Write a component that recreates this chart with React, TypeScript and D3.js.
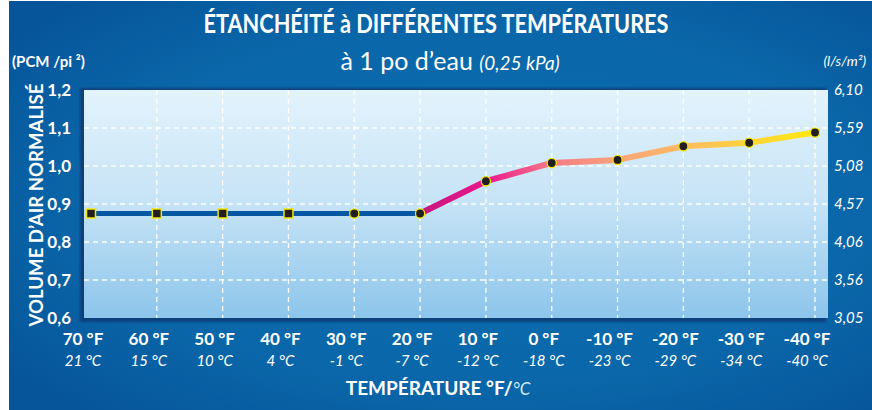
import React from "react";
import * as d3 from "d3";

const fLabels = ["70 °F", "60 °F", "50 °F", "40 °F", "30 °F", "20 °F", "10 °F", "0 °F", "-10 °F", "-20 °F", "-30 °F", "-40 °F"];
const cLabels = ["21 °C", "15 °C", "10 °C", "4 °C", "-1 °C", "-7 °C", "-12 °C", "-18 °C", "-23 °C", "-29 °C", "-34 °C", "-40 °C"];
const values = [0.875, 0.875, 0.875, 0.875, 0.875, 0.875, 0.96, 1.008, 1.016, 1.052, 1.061, 1.088];
const markerShape = ["square", "square", "square", "square", "circle", "circle", "circle", "circle", "circle", "circle", "circle", "circle"];
const leftTicks = ["0,6", "0,7", "0,8", "0,9", "1,0", "1,1", "1,2"];
const leftTickValues = [0.6, 0.7, 0.8, 0.9, 1.0, 1.1, 1.2];
const rightTicks = ["3,05", "3,56", "4,06", "4,57", "5,08", "5,59", "6,10"];
const gradientColors = ["#c5177f", "#ec168c", "#f47b88", "#f9a37a", "#fdbb60", "#fed43a", "#fee80f"];

const FONT = "Lato, 'Open Sans', sans-serif";

export default function App() {
  const W = 872, H = 410;
  const plot = { l: 84, r: 828, t: 90, b: 318 };
  const x = d3.scalePoint<string>().domain(fLabels).range([91, 815]);
  const y = d3.scaleLinear().domain([0.6, 1.2]).range([plot.b, plot.t]);
  const labelShift = -8;

  const blueIdx = 5;
  const line = d3.line<number>().x((_, i) => x(fLabels[i])!).y((d) => y(d));
  const bluePts = values.slice(0, blueIdx + 1);
  const colorPts = values.slice(blueIdx);
  const colorLine = d3
    .line<number>()
    .x((_, i) => x(fLabels[i + blueIdx])!)
    .y((d) => y(d));
  const gx1 = x(fLabels[blueIdx])!;
  const gx2 = x(fLabels[fLabels.length - 1])!;

  return (
    <svg width={W} height={H} style={{ position: "absolute", left: 0, top: 0, display: "block" }}>
      <defs>
        <radialGradient id="bg" cx="55%" cy="50%" r="70%">
          <stop offset="0%" stopColor="#0c71b4" />
          <stop offset="65%" stopColor="#0a66a8" />
          <stop offset="100%" stopColor="#06549a" />
        </radialGradient>
        <linearGradient id="plotbg" x1="0" y1="0" x2="0" y2="1">
          <stop offset="0%" stopColor="#e3f3fc" />
          <stop offset="50%" stopColor="#c6e3f6" />
          <stop offset="100%" stopColor="#8dc5eb" />
        </linearGradient>
        <linearGradient id="lineGrad" gradientUnits="userSpaceOnUse" x1={gx1} y1={0} x2={gx2} y2={0}>
          {gradientColors.map((c, i) => (
            <stop key={i} offset={`${(i / (gradientColors.length - 1)) * 100}%`} stopColor={c} />
          ))}
        </linearGradient>
        <filter id="shadow" x="-5%" y="-5%" width="110%" height="110%">
          <feGaussianBlur stdDeviation="1.2" />
        </filter>
      </defs>
      <rect x={0} y={0} width={W} height={H} fill="#ffffff" />
      <rect x={9} y={1} width={W - 9} height={H - 1} fill="url(#bg)" />

      {/* plot shadow + area */}
      <rect x={plot.l - 4} y={plot.t - 2} width={plot.r - plot.l + 2} height={plot.b - plot.t + 6} fill="#083e76" filter="url(#shadow)" opacity={0.9} />
      <rect x={plot.l} y={plot.t} width={plot.r - plot.l} height={plot.b - plot.t} fill="url(#plotbg)" />

      {/* grid */}
      {leftTickValues.slice(1, -1).map((v) => (
        <line key={v} x1={plot.l} x2={plot.r} y1={y(v)} y2={y(v)} stroke="#ffffff" strokeWidth={1.3} strokeDasharray="5,4" />
      ))}
      {fLabels.slice(1).map((f) => (
        <line key={f} x1={x(f)} x2={x(f)} y1={plot.t} y2={plot.b} stroke="#ffffff" strokeWidth={1.3} strokeDasharray="5,4" />
      ))}

      {/* lines */}
      <path d={line(bluePts)!} fill="none" stroke="#0657a3" strokeWidth={5} />
      <path d={colorLine(colorPts)!} fill="none" stroke="url(#lineGrad)" strokeWidth={6} strokeLinejoin="round" />

      {/* markers */}
      {values.map((v, i) =>
        markerShape[i] === "square" ? (
          <rect key={i} x={x(fLabels[i])! - 4.5} y={y(v) - 4.5} width={9} height={9} fill="#231f20" stroke="#f3e600" strokeWidth={1.5} />
        ) : (
          <circle key={i} cx={x(fLabels[i])!} cy={y(v)} r={4.6} fill="#231f20" stroke="#f3e600" strokeWidth={1.3} />
        )
      )}

      {/* left ticks */}
      {leftTicks.map((t, i) => (
        <text key={t} x={71} y={y(leftTickValues[i]) + 6} textAnchor="end" fill="#ffffff" fontFamily={FONT} fontWeight={700} fontSize={17}>
          {t}
        </text>
      ))}
      {/* right ticks */}
      {rightTicks.map((t, i) => (
        <text key={t} x={834} y={y(leftTickValues[i]) + 5} textAnchor="start" fill="#ffffff" fontFamily={FONT} fontStyle="italic" fontSize={15}>
          {t}
        </text>
      ))}

      {/* x labels */}
      {fLabels.map((f, i) => (
        <g key={f}>
          <text x={x(f)! + labelShift} y={345} textAnchor="middle" fill="#ffffff" fontFamily={FONT} fontWeight={700} fontSize={17}>
            {f}
          </text>
          <text x={x(f)! + labelShift} y={366} textAnchor="middle" fill="#ffffff" fontFamily={FONT} fontStyle="italic" fontSize={15}>
            {cLabels[i]}
          </text>
        </g>
      ))}

      {/* titles */}
      <text x={436} y={33} textAnchor="middle" fill="#ffffff" fontFamily={FONT} fontWeight={700} fontSize={26} textLength={465} lengthAdjust="spacingAndGlyphs">
        ÉTANCHÉITÉ à DIFFÉRENTES TEMPÉRATURES
      </text>
      <text x={450} y={70} textAnchor="middle" fill="#ffffff" fontFamily={FONT}>
        <tspan fontSize={25}>à 1 po d’eau </tspan>
        <tspan fontSize={19} fontStyle="italic">(0,25 kPa)</tspan>
      </text>
      <text x={12} y={67} fill="#ffffff" fontFamily={FONT} fontWeight={700} fontSize={15}>
        (PCM /pi ²)
      </text>
      <text x={866} y={66} textAnchor="end" fill="#ffffff" fontFamily={FONT} fontStyle="italic" fontSize={14}>
        (l/s/m²)
      </text>
      <text transform="translate(43,205) rotate(-90)" textAnchor="middle" fill="#ffffff" fontFamily={FONT} fontWeight={700} fontSize={19} textLength={243} lengthAdjust="spacingAndGlyphs">
        VOLUME D’AIR NORMALISÉ
      </text>
      <text x={438} y={395} textAnchor="middle" fill="#ffffff" fontFamily={FONT}>
        <tspan fontWeight={700} fontSize={19}>TEMPÉRATURE °F/</tspan>
        <tspan fontStyle="italic" fontSize={17} fill="#d6e8f5">°C</tspan>
      </text>
    </svg>
  );
}
